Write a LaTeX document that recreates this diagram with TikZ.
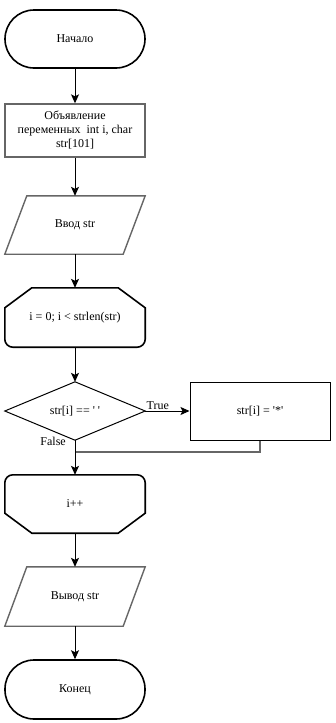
\documentclass[tikz,border=0pt]{standalone}
\usepackage{fontspec}
\setmainfont{Liberation Serif}
\usetikzlibrary{arrows.meta}
\definecolor{edgegray}{HTML}{666666}
\tikzset{
  box/.style={minimum width=140pt, minimum height=58pt, inner sep=0pt, align=center, font=\fontsize{12}{14}\selectfont, text=black},
  thickline/.style={line width=1.6pt, draw=black},
  grayline/.style={line width=1.4pt, draw=edgegray},
  conn/.style={line width=1pt, -{Stealth[length=9pt,width=8pt,inset=2pt]}},
  lbl/.style={font=\fontsize{12}{14}\selectfont, inner sep=1pt}
}
\begin{document}
\begin{tikzpicture}[x=1pt,y=-1pt]
\useasboundingbox[fill=white] (0,0) rectangle (335,723);

% start
\node[box, thickline, rounded corners=29pt] (start) at (75,39) {Начало};
% declaration
\node[box, grayline, minimum height=53pt] (decl) at (75,130.5) {Объявление\\переменных\ \ int i, char\\str[101]};
% input
\node[box] (input) at (75,225) {Ввод str};
\draw[grayline] ([xshift=22pt]input.north west) -- (input.north east) -- ([xshift=-22pt]input.south east) -- (input.south west) -- cycle;
% loop start
\node[box, minimum height=59pt] (loop) at (75,317.5) {i = 0; i < strlen(str)};
\draw[thickline] ([xshift=27pt]loop.north west) -- ([xshift=-27pt]loop.north east) -- ([yshift=-20pt]loop.north east) [rounded corners=8pt] -- (loop.south east) -- (loop.south west) [sharp corners] -- ([yshift=-20pt]loop.north west) -- cycle;
% condition
\node[box] (cond) at (75,411) {str[i] == \textquotesingle\ \textquotesingle};
\draw[line width=1pt] (cond.north) -- (cond.east) -- (cond.south) -- (cond.west) -- cycle;
% action
\node[box, draw, line width=1pt] (act) at (260,411) {str[i] = \textquotesingle*\textquotesingle};
% loop end
\node[box] (inc) at (75,504) {i++};
\draw[thickline] ([xshift=27pt]inc.south west) -- ([xshift=-27pt]inc.south east) -- ([yshift=20pt]inc.south east) [rounded corners=8pt] -- (inc.north east) -- (inc.north west) [sharp corners] -- ([yshift=20pt]inc.south west) -- cycle;
% output
\node[box, minimum height=59pt] (out) at (75,596.5) {Вывод str};
\draw[grayline] ([xshift=22pt]out.north west) -- (out.north east) -- ([xshift=-22pt]out.south east) -- (out.south west) -- cycle;
% end
\node[box, thickline, minimum height=59pt, rounded corners=29pt] (stop) at (75,689.5) {Конец};

% connectors
\draw[conn] (start) -- (decl);
\draw[conn] (decl) -- (input);
\draw[conn] (input) -- (loop);
\draw[conn] (loop) -- (cond);
\draw[conn] (cond.east) -- (act.west) node[lbl, pos=0, anchor=south west] {True};
\coordinate (merge) at (75,452);
\draw[grayline] (act.south) |- (merge);
\draw[conn] (cond.south) -- (inc.north);
\node[lbl, anchor=east] (flabel) at (67,441) {False};
\draw[conn] (inc) -- (out);
\draw[conn] (out) -- (stop);
\end{tikzpicture}
\end{document}
